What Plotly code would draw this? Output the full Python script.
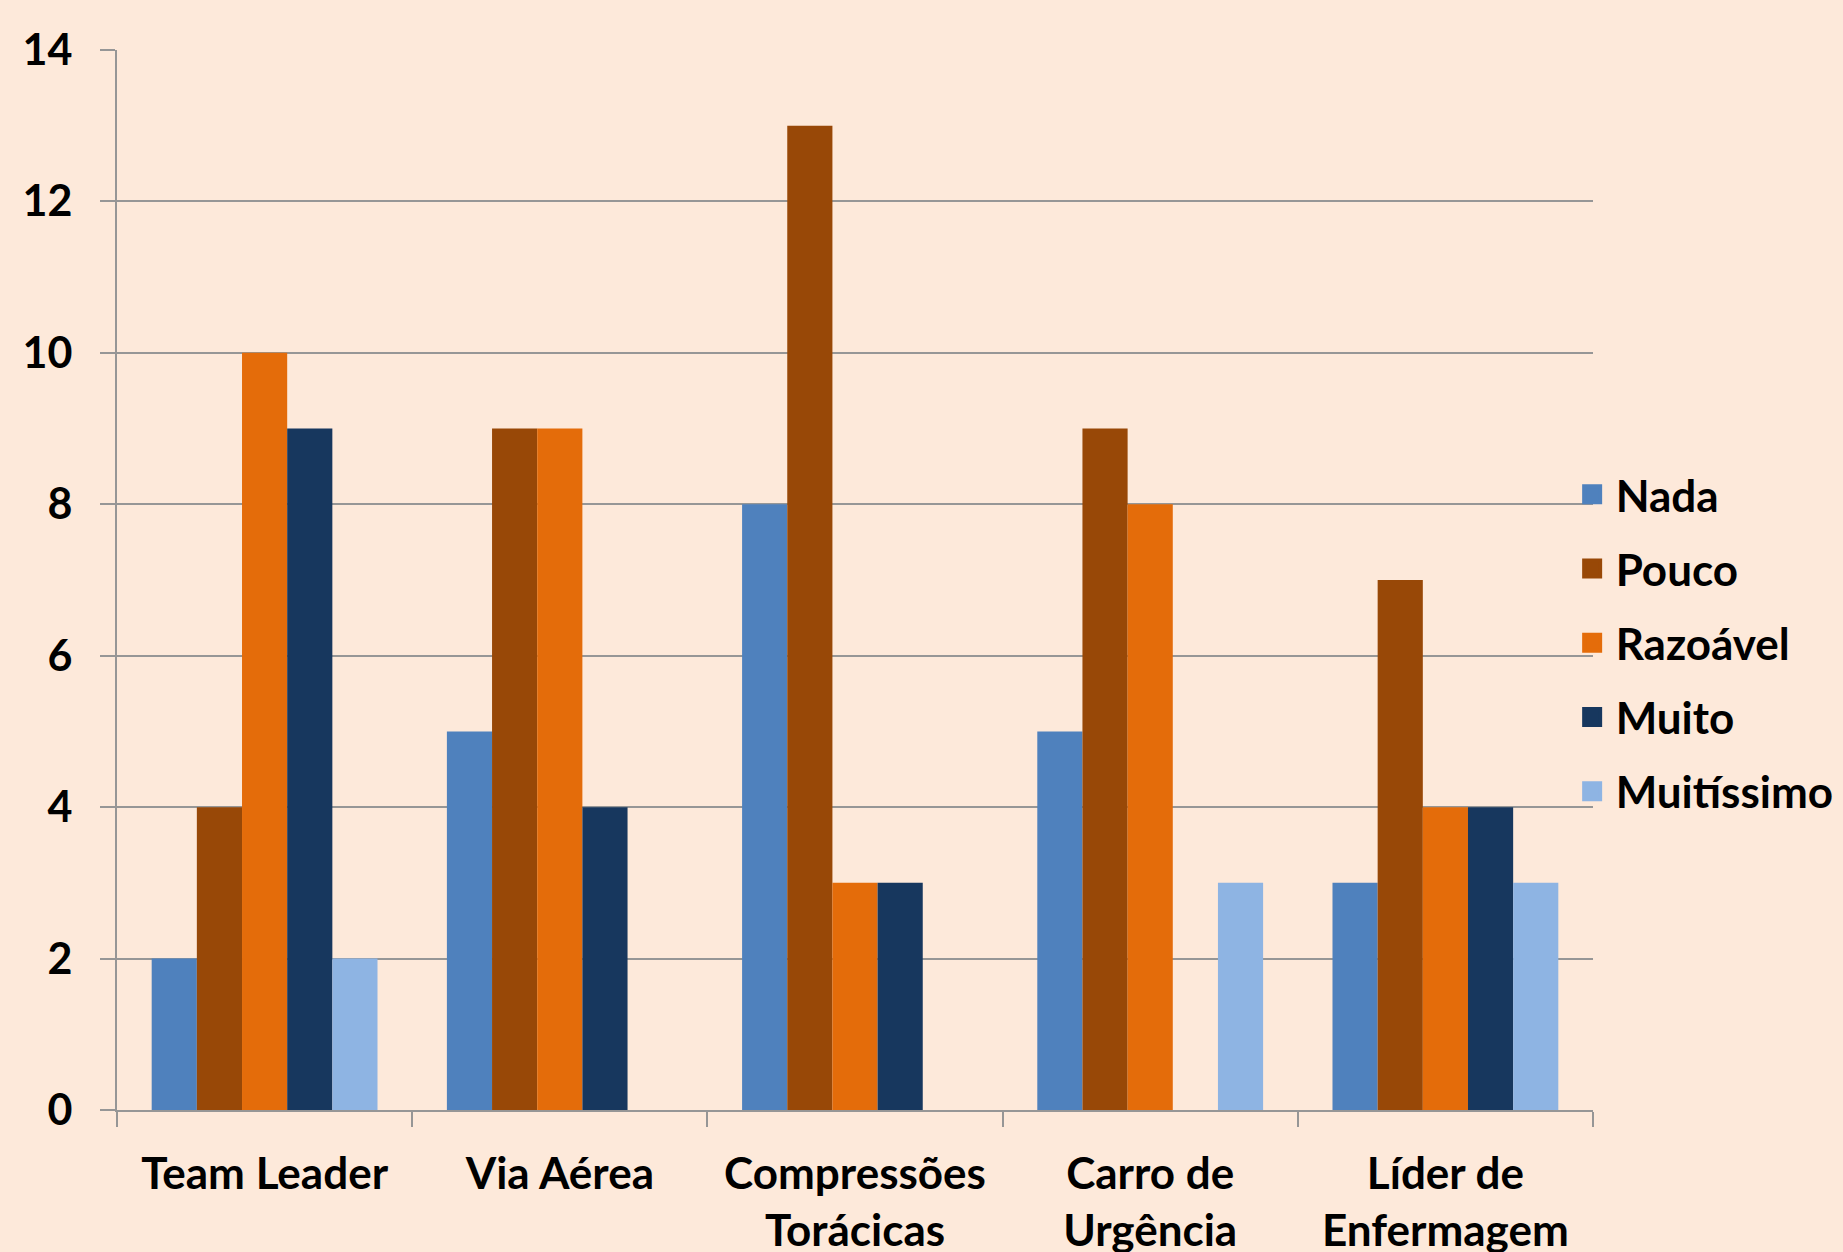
import plotly.graph_objects as go

categories = ["Team Leader", "Via Aérea", "Compressões<br>Torácicas", "Carro de<br>Urgência", "Líder de<br>Enfermagem"]
series_names = ["Nada", "Pouco", "Razoável", "Muito", "Muitíssimo"]
nada = [2, 5, 8, 5, 3]
pouco = [4, 9, 13, 9, 7]
razoavel = [10, 9, 3, 8, 4]
muito = [9, 4, 3, 0, 4]
muitissimo = [2, 0, 0, 3, 3]
y_ticks = [0, 2, 4, 6, 8, 10, 12, 14]

colors = ["#4F81BD", "#984807", "#E46C0A", "#17375E", "#8EB4E3"]
values = [nada, pouco, razoavel, muito, muitissimo]

BG = "#FDE9DA"
GRID = "#969696"
TXT = dict(family="Lato, Carlito, Calibri, sans-serif", size=44, color="#000000", weight="bold")
YTXT = dict(family="Lato, Carlito, Calibri, sans-serif", size=43, color="#000000", weight="bold")

fig = go.Figure()
for name, vals, col in zip(series_names, values, colors):
    fig.add_trace(go.Bar(x=categories, y=vals, name=name, marker=dict(color=col, line=dict(width=0)),
                         showlegend=False))
for name, col in zip(series_names, colors):
    fig.add_trace(go.Scatter(x=[None], y=[None], mode="markers", name=name, legendgroup=name,
                             marker=dict(symbol="square", size=20, color=col, line=dict(color=col, width=4))))

fig.update_layout(
    width=1843, height=1252,
    paper_bgcolor=BG, plot_bgcolor=BG,
    font=TXT,
    barmode="group", bargap=0.235, bargroupgap=0,
    margin=dict(l=117, r=250, t=50, b=142, autoexpand=False),
    legend=dict(x=0.9835, xanchor="left", y=0.4408, yanchor="middle", bgcolor="rgba(0,0,0,0)",
                font=TXT, itemsizing="trace", tracegroupgap=14, itemwidth=37),
    showlegend=True,
)
fig.update_xaxes(
    showline=True, linecolor=GRID, linewidth=2, tickson="boundaries", ticks="outside", ticklen=15,
    tickcolor=GRID, tickwidth=2, showgrid=False, ticklabelstandoff=24, tickfont=TXT,
)
fig.update_yaxes(
    range=[0, 14], tickvals=y_ticks, showline=True, linecolor=GRID, linewidth=2, ticks="outside",
    ticklen=15, tickcolor=GRID, tickwidth=2, showgrid=True, gridcolor=GRID, gridwidth=2,
    zeroline=False, ticklabelstandoff=19, tickfont=YTXT,
)
fig.write_html("out.html", config={"displayModeBar": False})

with open("out.html", "r", encoding="utf-8") as f:
    html = f.read()
html = html.replace("<head>", "<head><style>html,body{margin:0;padding:0;background:%s;}</style>" % BG, 1)
with open("out.html", "w", encoding="utf-8") as f:
    f.write(html)
